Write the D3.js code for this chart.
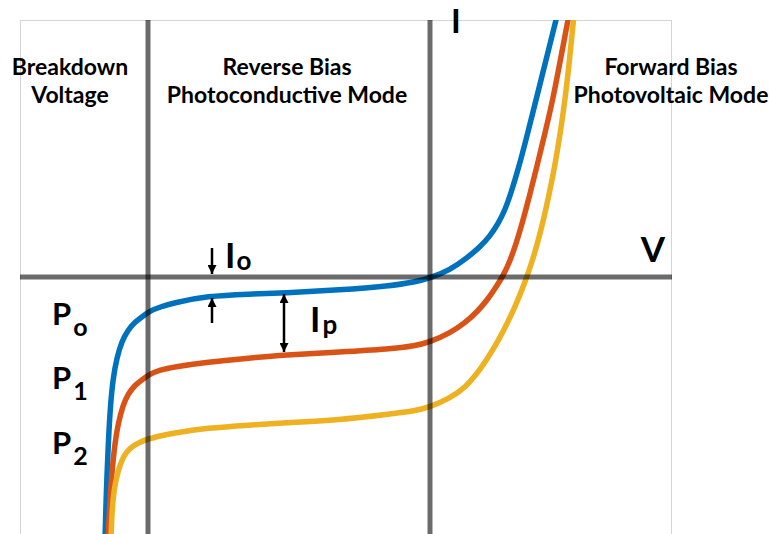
<!DOCTYPE html>
<html>
<head>
<meta charset="utf-8">
<script src="https://cdn.jsdelivr.net/npm/d3@7"></script>
<style>
  html, body { margin: 0; padding: 0; background: #fff; }
  svg { display: block; }
  text { font-family: Lato, "Open Sans", sans-serif; font-weight: 700; fill: #000; }
</style>
</head>
<body>
<svg id="chart" width="769" height="534"></svg>
<script>
// Photodiode I–V characteristic for three illumination levels, [V, I] pairs
const curveP0 = [
  [-3.25, -2.63], [-3.24, -2.23], [-3.22, -1.73], [-3.20, -1.33], [-3.17, -1.01],
  [-3.13, -0.80], [-3.08, -0.64], [-3.02, -0.53], [-2.95, -0.45], [-2.87, -0.39],
  [-2.80, -0.34], [-2.70, -0.30], [-2.57, -0.26], [-2.23, -0.19], [-1.80, -0.17],
  [-1.47, -0.16], [-0.90, -0.13], [-0.40, -0.09], [-0.15, -0.05], [0.00, -0.01],
  [0.20, 0.07], [0.37, 0.19], [0.50, 0.30], [0.60, 0.41], [0.68, 0.53],
  [0.75, 0.67], [0.81, 0.84], [0.88, 1.07], [0.96, 1.37], [1.04, 1.69],
  [1.12, 2.01], [1.20, 2.33], [1.26, 2.57], [1.31, 2.77]
];
const curveP1 = [
  [-3.22, -2.63], [-3.20, -2.23], [-3.18, -1.93], [-3.15, -1.66], [-3.12, -1.47],
  [-3.07, -1.28], [-3.02, -1.17], [-2.95, -1.08], [-2.87, -1.02], [-2.80, -0.97],
  [-2.70, -0.93], [-2.57, -0.90], [-2.23, -0.85], [-1.80, -0.81], [-1.47, -0.78],
  [-0.90, -0.75], [-0.40, -0.72], [-0.15, -0.69], [0.00, -0.65], [0.20, -0.56],
  [0.35, -0.46], [0.48, -0.34], [0.58, -0.22], [0.66, -0.10], [0.73, 0.01],
  [0.80, 0.16], [0.86, 0.33], [0.92, 0.53], [0.99, 0.79], [1.07, 1.11],
  [1.15, 1.44], [1.23, 1.78], [1.30, 2.15], [1.37, 2.52], [1.40, 2.67]
];
const curveP2 = [
  [-3.19, -2.63], [-3.18, -2.33], [-3.16, -2.13], [-3.13, -1.98], [-3.09, -1.85],
  [-3.04, -1.75], [-2.97, -1.69], [-2.90, -1.65], [-2.82, -1.62], [-2.70, -1.59],
  [-2.57, -1.56], [-2.23, -1.51], [-1.80, -1.48], [-1.47, -1.46], [-0.90, -1.43],
  [-0.40, -1.37], [-0.15, -1.34], [0.00, -1.30], [0.20, -1.21], [0.35, -1.11],
  [0.50, -0.93], [0.63, -0.73], [0.75, -0.51], [0.85, -0.30], [0.94, -0.08],
  [1.01, 0.12], [1.07, 0.32], [1.13, 0.55], [1.19, 0.82], [1.25, 1.12],
  [1.30, 1.42], [1.35, 1.77], [1.39, 2.12], [1.43, 2.52], [1.44, 2.62]
];
const seriesColors = ["#0072BD", "#D95319", "#EDB120"];
const seriesLabels = [["P", "o"], ["P", "1"], ["P", "2"]];
const seriesLabelLevel = [-0.34, -0.98, -1.63];   // current level the label sits beside

// Region boundaries on the voltage axis
const regionEdges = [-2.82, 0];
const regionTitles = [
  ["Breakdown", "Voltage"],
  ["Reverse Bias", "Photoconductive Mode"],
  ["Forward Bias", "Photovoltaic Mode"]
];

// Annotated currents: dark current Io and photocurrent Ip
const darkCurrentAt = -2.18;
const darkCurrentGap = [0.0, -0.20];
const photoCurrentAt = -1.46;
const photoCurrentSpan = [-0.16, -0.76];

const svg = d3.select("#chart");
const plotL = 20, plotR = 672, plotT = 20, plotB = 534;

const x = d3.scaleLinear().domain([-4.1, 2.42]).range([plotL, plotR]);
const y = d3.scaleLinear().domain([-2.57, 2.57]).range([plotB, plotT]);

const defs = svg.append("defs");
defs.append("clipPath").attr("id", "plotClip")
  .append("rect").attr("x", plotL).attr("y", plotT)
  .attr("width", plotR - plotL).attr("height", plotB - plotT);
const soft = defs.append("filter").attr("id", "soft")
  .attr("x", "-10%").attr("y", "-10%").attr("width", "120%").attr("height", "120%");
soft.append("feGaussianBlur").attr("stdDeviation", 0.7);
const softCurve = defs.append("filter").attr("id", "softCurve")
  .attr("x", "-10%").attr("y", "-10%").attr("width", "120%").attr("height", "120%");
softCurve.append("feGaussianBlur").attr("stdDeviation", 0.45);

defs.append("marker").attr("id", "head")
  .attr("viewBox", "0 0 10 10").attr("refX", 10).attr("refY", 5)
  .attr("markerWidth", 10).attr("markerHeight", 9)
  .attr("markerUnits", "userSpaceOnUse").attr("orient", "auto-start-reverse")
  .append("path").attr("d", "M0,0 L10,5 L0,10 Z").attr("fill", "#000");

// plot frame
svg.append("rect")
  .attr("x", plotL + 0.5).attr("y", plotT + 0.5)
  .attr("width", plotR - plotL - 1).attr("height", plotB - plotT + 4)
  .attr("fill", "none").attr("stroke", "#d4d4d4").attr("stroke-width", 1);

// curves
const line = d3.line()
  .x(d => x(d[0])).y(d => y(d[1]))
  .curve(d3.curveBasis);

svg.append("g").attr("clip-path", "url(#plotClip)")
  .selectAll("path")
  .data([curveP0, curveP1, curveP2])
  .join("path")
  .attr("d", line)
  .attr("fill", "none")
  .attr("stroke", (d, i) => seriesColors[i])
  .attr("stroke-width", 5.5)
  .attr("stroke-linecap", "round")
  .attr("stroke-linejoin", "round")
  .attr("filter", "url(#softCurve)");

// translucent axis lines drawn over the curves
const axes = svg.append("g").attr("filter", "url(#soft)");
axes.append("line")
  .attr("x1", plotL).attr("x2", plotR)
  .attr("y1", y(0)).attr("y2", y(0));
axes.selectAll("line.v")
  .data(regionEdges)
  .join("line").attr("class", "v")
  .attr("x1", d => x(d)).attr("x2", d => x(d))
  .attr("y1", plotT).attr("y2", plotB);
axes.selectAll("line")
  .attr("stroke", "#000").attr("stroke-opacity", 0.58).attr("stroke-width", 5);

// region titles
const titleX = [70, 287, 671];
regionTitles.forEach((lines, i) => {
  lines.forEach((t, j) => {
    svg.append("text")
      .attr("x", titleX[i]).attr("y", 75 + j * 28)
      .attr("text-anchor", "middle")
      .attr("font-size", 23)
      .text(t);
  });
});

// axis names
svg.append("text").attr("x", x(0) + 21).attr("y", 33)
  .attr("font-size", 33).text("I");
svg.append("text").attr("x", x(2.23)).attr("y", y(0) - 15)
  .attr("text-anchor", "middle").attr("font-size", 35).text("V");

// series labels
seriesLabels.forEach((lab, i) => {
  const t = svg.append("text")
    .attr("x", 52).attr("y", y(seriesLabelLevel[i]) + 14)
    .attr("font-size", 31);
  t.append("tspan").text(lab[0]);
  t.append("tspan").attr("dx", 2).attr("dy", 11).attr("font-size", 25).text(lab[1]);
});

// dark current Io
const arrows = svg.append("g").attr("stroke", "#000").attr("stroke-width", 2.5);
arrows.append("line")
  .attr("x1", x(darkCurrentAt)).attr("x2", x(darkCurrentAt))
  .attr("y1", y(darkCurrentGap[0]) - 29).attr("y2", y(darkCurrentGap[0]) - 3)
  .attr("marker-end", "url(#head)");
arrows.append("line")
  .attr("x1", x(darkCurrentAt)).attr("x2", x(darkCurrentAt))
  .attr("y1", y(darkCurrentGap[1]) + 26).attr("y2", y(darkCurrentGap[1]) + 1)
  .attr("marker-end", "url(#head)");
const io = svg.append("text")
  .attr("x", x(darkCurrentAt) + 13).attr("y", y(0) - 9)
  .attr("font-size", 35);
io.append("tspan").text("I");
io.append("tspan").attr("dx", 1).attr("dy", 2).attr("font-size", 26).text("o");

// photocurrent Ip
arrows.append("line")
  .attr("x1", x(photoCurrentAt)).attr("x2", x(photoCurrentAt))
  .attr("y1", y(photoCurrentSpan[0]) + 1).attr("y2", y(photoCurrentSpan[1]) - 1)
  .attr("marker-start", "url(#head)")
  .attr("marker-end", "url(#head)");
const ip = svg.append("text")
  .attr("x", x(photoCurrentAt) + 26).attr("y", y(photoCurrentSpan[0]) + 39)
  .attr("font-size", 35);
ip.append("tspan").text("I");
ip.append("tspan").attr("dx", 2).attr("dy", 2).attr("font-size", 26).text("p");
</script>
</body>
</html>
